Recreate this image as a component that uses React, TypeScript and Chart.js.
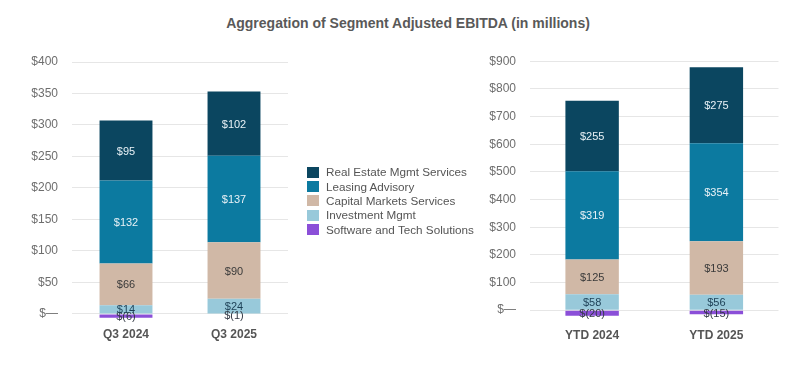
import React, { useEffect, useRef } from "react";
import { Chart, registerables } from "chart.js";

Chart.register(...registerables);

const seriesNames = [
  "Real Estate Mgmt Services",
  "Leasing Advisory",
  "Capital Markets Services",
  "Investment Mgmt",
  "Software and Tech Solutions",
];
const seriesColors = ["#0b4660", "#0c7aa0", "#d0b8a6", "#98c9da", "#8b4fd8"];
const labelColors = ["#e8f1f6", "#e8f1f6", "#3a3a3a", "#1c3f55", "#333a45"];

const quarterCategories = ["Q3 2024", "Q3 2025"];
const quarterRealEstate = [95, 102];
const quarterLeasing = [132, 137];
const quarterCapital = [66, 90];
const quarterInvestment = [14, 24];
const quarterSoftware = [-6, -1];

const ytdCategories = ["YTD 2024", "YTD 2025"];
const ytdRealEstate = [255, 275];
const ytdLeasing = [319, 354];
const ytdCapital = [125, 193];
const ytdInvestment = [58, 56];
const ytdSoftware = [-20, -15];

const FONT = "'Liberation Sans', Arial, sans-serif";

const fmt = (v: number) => (v < 0 ? `$(${Math.abs(v)})` : `$${v}`);

const valueLabels = {
  id: "valueLabels",
  afterDatasetsDraw(chart: any) {
    const ctx = chart.ctx;
    ctx.save();
    ctx.font = `11px ${FONT}`;
    ctx.textAlign = "center";
    ctx.textBaseline = "middle";
    chart.data.datasets.forEach((ds: any, di: number) => {
      const meta = chart.getDatasetMeta(di);
      meta.data.forEach((el: any, i: number) => {
        const v = ds.data[i];
        const y = (el.y + el.base) / 2;
        ctx.fillStyle = ds.labelColor;
        ctx.fillText(fmt(v), el.x, y + 1);
      });
    });
    ctx.restore();
  },
};

function buildSeries(values: number[][]) {
  // bottom of the stack first: reverse the legend order
  const out: any[] = [];
  for (let i = values.length - 1; i >= 0; i--) {
    out.push({
      label: seriesNames[i],
      data: values[i],
      backgroundColor: seriesColors[i],
      labelColor: labelColors[i],
      borderWidth: 0,
      stack: "s",
    });
  }
  return out;
}

function makeConfig(
  categories: string[],
  values: number[][],
  opts: {
    min: number;
    max: number;
    step: number;
    yWidth: number;
    pad: { top: number; right: number; bottom: number; left: number };
    xPad: number;
    barPct: number;
  }
): any {
  return {
    type: "bar",
    data: { labels: categories, datasets: buildSeries(values) },
    plugins: [valueLabels],
    options: {
      animation: false,
      responsive: false,
      maintainAspectRatio: false,
      layout: { padding: opts.pad },
      plugins: { legend: { display: false }, tooltip: { enabled: false }, title: { display: false } },
      datasets: { bar: { barPercentage: opts.barPct, categoryPercentage: 1 } },
      scales: {
        x: {
          stacked: true,
          grid: { display: false, drawTicks: false },
          border: { display: false },
          ticks: { padding: opts.xPad, color: "#555555", font: { family: FONT, size: 12, weight: "bold" } },
          afterFit: (s: any) => {
            s.height = 30;
          },
        },
        y: {
          stacked: true,
          min: opts.min,
          max: opts.max,
          grid: { color: "#e6e6e6", lineWidth: 1, drawTicks: false },
          border: { display: false },
          ticks: {
            padding: 14,
            color: "#6e6e6e",
            font: { family: FONT, size: 12 },
            callback: (v: number) => (v === 0 ? "$\u2014" : `$${v}`),
          },
          afterBuildTicks: (s: any) => {
            const t: any[] = [];
            for (let v = 0; v <= opts.max; v += opts.step) t.push({ value: v });
            s.ticks = t;
          },
          afterFit: (s: any) => {
            s.width = opts.yWidth;
          },
        },
      },
    },
  };
}

function StackedChart(props: { config: any; style: React.CSSProperties; width: number; height: number }) {
  const ref = useRef<HTMLCanvasElement>(null);
  useEffect(() => {
    if (!ref.current) return;
    const chart = new Chart(ref.current, props.config);
    return () => chart.destroy();
  }, []);
  return (
    <canvas
      ref={ref}
      width={props.width}
      height={props.height}
      style={{ position: "absolute", width: props.width, height: props.height, ...props.style }}
    />
  );
}

export default function App() {
  const leftConfig = makeConfig(
    quarterCategories,
    [quarterRealEstate, quarterLeasing, quarterCapital, quarterInvestment, quarterSoftware],
    {
      min: -8,
      max: 400,
      step: 50,
      yWidth: 72,
      pad: { top: 22, right: 22, bottom: 1, left: 0 },
      xPad: 8,
      barPct: 0.49,
    }
  );
  const rightConfig = makeConfig(
    ytdCategories,
    [ytdRealEstate, ytdLeasing, ytdCapital, ytdInvestment, ytdSoftware],
    {
      min: -25,
      max: 900,
      step: 100,
      yWidth: 90,
      pad: { top: 15, right: 21.5, bottom: 2.9, left: 0 },
      xPad: 11,
      barPct: 0.43,
    }
  );
  return (
    <div
      style={{
        position: "absolute",
        left: 0,
        top: 0,
        width: 800,
        height: 366,
        background: "#ffffff",
        fontFamily: FONT,
        overflow: "hidden",
      }}
    >
      <div
        style={{
          position: "absolute",
          left: 0,
          width: 816,
          top: 13,
          textAlign: "center",
          fontSize: 14,
          fontWeight: "bold",
          color: "#595959",
          lineHeight: "20px",
        }}
      >
        Aggregation of Segment Adjusted EBITDA (in millions)
      </div>
      <StackedChart config={leftConfig} width={310} height={310} style={{ left: 0, top: 40 }} />
      <StackedChart config={rightConfig} width={360} height={310} style={{ left: 440, top: 40 }} />
      <div style={{ position: "absolute", left: 307, top: 165 }}>
        {seriesNames.map((name, i) => (
          <div key={name} style={{ display: "flex", alignItems: "center", height: 14.4 }}>
            <span
              style={{
                display: "inline-block",
                width: 12,
                height: 11,
                background: seriesColors[i],
                marginRight: 7,
              }}
            />
            <span style={{ fontSize: 11.7, color: "#555555", lineHeight: "14px", whiteSpace: "nowrap" }}>{name}</span>
          </div>
        ))}
      </div>
    </div>
  );
}
